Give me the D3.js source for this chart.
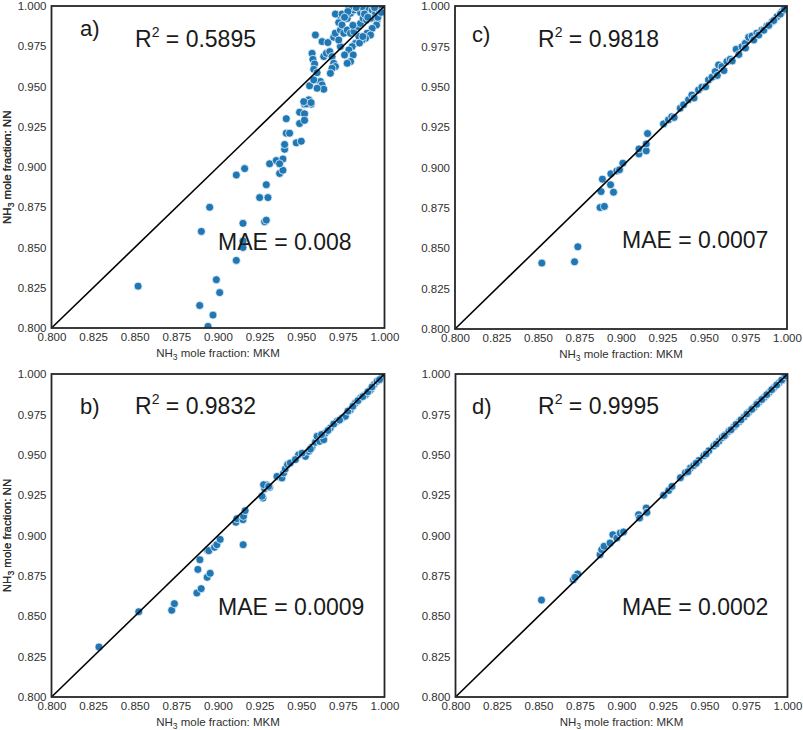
<!DOCTYPE html>
<html><head><meta charset="utf-8">
<script src="https://cdn.jsdelivr.net/npm/d3@7"></script>
<style>body{margin:0;background:#fff}</style>
</head><body>
<svg id="chart" width="803" height="730"></svg>
<script>
const tickValues = [0.800,0.825,0.850,0.875,0.900,0.925,0.950,0.975,1.000];
const panelLabels = ["a)","b)","c)","d)"];
const r2Values = ["0.5895","0.9832","0.9818","0.9995"];
const maeValues = ["0.008","0.0009","0.0007","0.0002"];
const xLabel = "mole fraction: MKM";
const yLabel = "mole fraction: NN";

// Panel a) MKM (x) vs NN (y)
const aX = [0.852,0.889,0.890,0.895,0.894,0.897,0.899,0.901,0.911,0.911,0.916,0.915,0.915,0.915,0.925,0.930,0.929,0.928,0.929,0.931,0.935,0.937,0.939,0.939,0.937,0.940,0.940,0.941,0.943,0.941,0.947,0.950,0.949,0.952,0.949,0.952,0.952,0.956,
0.9585,0.9625,0.966,0.9565,0.957,0.958,0.9575,0.9595,0.9615,0.9625,0.9635,0.9595,0.955,0.9575,0.9545,0.953,0.9515,0.9559,0.9635,0.9651,0.9671,0.9685,0.9695,0.9705,0.9685,0.9675,0.9695,0.9705,0.9735,0.9725,0.9745,0.9725,0.9705,0.9745,0.9776,0.9796,0.9816,0.984,0.9856,0.9876,0.990,0.9926,0.9946,0.9956,0.9952,0.9926,0.9896,0.9916,0.9886,0.9866,0.9846,0.9826,0.9806,0.9786,0.9812,0.9796,0.9776,0.976,0.9735,0.9725,0.9756,0.9776,0.9796,0.9816,0.984,0.9856,0.9872,0.9916,0.9892,0.9966,0.9976,0.9936,0.9866,0.9786,
0.983,0.988,0.990,0.994,0.996,0.998,0.985,0.987,0.981,0.978,0.976];
const aY = [0.826,0.814,0.860,0.875,0.801,0.808,0.830,0.822,0.842,0.895,0.899,0.865,0.854,0.850,0.881,0.881,0.889,0.866,0.867,0.902,0.904,0.896,0.898,0.905,0.902,0.911,0.914,0.921,0.921,0.930,0.915,0.916,0.934,0.933,0.927,0.929,0.939,0.939,
0.982,0.9779,0.9773,0.9706,0.9669,0.964,0.9607,0.9586,0.9531,0.951,0.9483,0.9489,0.9504,0.9541,0.9417,0.9392,0.9406,0.940,0.9686,0.9706,0.9717,0.9686,0.9644,0.9624,0.9613,0.9582,0.9806,0.983,0.9851,0.9897,0.9882,0.9944,0.995,0.995,0.9923,0.9955,0.9975,0.9986,0.9959,0.9975,0.9986,0.9975,0.9955,0.9913,0.9882,0.9861,0.983,0.982,0.9799,0.9789,0.981,0.9768,0.9748,0.9727,0.9696,0.9655,0.9644,0.9696,0.9748,0.9789,0.983,0.9851,0.983,0.9841,0.9872,0.9892,0.9923,0.9923,0.9913,0.9975,0.9992,0.9996,0.9996,0.9986,
0.999,0.995,0.993,0.999,0.993,0.996,0.977,0.981,0.988,0.9965,0.993];

// Panel b)
const bX = [0.8285,0.8524,0.8722,0.8738,0.8873,0.8899,0.8879,0.8891,0.8935,0.8953,0.8937,0.8945,0.8979,0.8993,0.9013,0.9151,0.9107,0.9113,0.9150,0.9153,0.9163,0.9270,0.9280,0.9290,0.9310,0.9264,0.9274,0.9304,
0.9354,0.9384,0.9394,0.9404,0.9418,0.9434,0.9484,0.9525,0.9545,0.9565,0.9585,0.9595,0.9611,0.9635,0.9645,0.9675,0.9715,0.9745,0.9765,0.9795,0.9825,0.9856,0.9886,0.9916,0.9936,0.9956,0.9986,
0.9465,0.9505,0.9555,0.9622,0.9660,0.9695,0.9730,0.9780,0.9810,0.9840,0.9870,0.9900,0.9925,0.9970];
const bY = [0.8310,0.8528,0.8537,0.8578,0.8644,0.8671,0.8790,0.8850,0.8741,0.8766,0.8908,0.8906,0.8927,0.8943,0.8976,0.8943,0.9082,0.9104,0.9098,0.9119,0.9154,0.9232,0.9290,0.9315,0.9298,0.9243,0.9315,0.9304,
0.9366,0.9356,0.9387,0.9412,0.9439,0.9449,0.9500,0.9490,0.9521,0.9548,0.9577,0.9614,0.9583,0.9593,0.9635,0.9666,0.9707,0.9728,0.9738,0.9779,0.9820,0.9851,0.9872,0.9903,0.9934,0.9955,0.9986,
0.9470,0.9510,0.9535,0.9625,0.9650,0.9690,0.9715,0.9770,0.9800,0.9835,0.9860,0.9890,0.9920,0.9965];

// Panel c)
const cX = [0.8523,0.8720,0.8740,0.8874,0.8900,0.8880,0.8888,0.8937,0.8955,0.8939,0.8975,0.8991,0.9011,0.9108,0.9108,0.9152,0.9152,0.9160,0.9256,0.9286,0.9306,
0.9357,0.9377,0.9407,0.9427,0.9467,0.9487,0.9528,0.9548,0.9568,0.9588,0.9608,0.9638,0.9658,0.9694,0.9729,0.9749,0.9769,0.9789,0.9819,0.9849,0.9879,0.9910,0.9940,0.9970,0.9990,
0.9320,0.9440,0.9510,0.9580,0.9620,0.9670,0.9710,0.9750,0.9800,0.9830,0.9860,0.9890,0.9920,0.9960,0.9985];
const cY = [0.8408,0.8416,0.8509,0.8752,0.8759,0.8851,0.8928,0.8893,0.8847,0.8961,0.8979,0.8986,0.9027,0.9084,0.9115,0.9103,0.9146,0.9210,0.9270,0.9295,0.9315,
0.9367,0.9388,0.9419,0.9449,0.9480,0.9497,0.9542,0.9559,0.9594,0.9635,0.9625,0.9656,0.9670,0.9732,0.9748,0.9769,0.9806,0.9814,0.9831,0.9852,0.9876,0.9903,0.9934,0.9965,0.9986,
0.9310,0.9430,0.9500,0.9570,0.9600,0.9660,0.9700,0.9740,0.9790,0.9820,0.9850,0.9880,0.9910,0.9950,0.9980];

// Panel d)
const dX = [0.8518,0.8710,0.8736,0.8720,0.8871,0.8881,0.8895,0.8931,0.8948,0.8972,0.8992,0.9012,0.9103,0.9109,0.9149,0.9153,0.9254,0.9284,0.9304,
0.9355,0.9385,0.9415,0.9435,0.9466,0.9496,0.9526,0.9556,0.9587,0.9607,0.9627,0.9647,0.9677,0.9708,0.9738,0.9768,0.9798,0.9828,0.9859,0.9889,0.9919,0.9949,0.9976,
0.9400,0.9450,0.9510,0.9570,0.9620,0.9660,0.9690,0.9720,0.9755,0.9785,0.9815,0.9845,0.9875,0.9905,0.9935,0.9965,0.9990];
const dY = [0.8600,0.8726,0.8762,0.8741,0.8881,0.8912,0.8933,0.8954,0.9005,0.8984,0.9015,0.9022,0.9129,0.9108,0.9170,0.9143,0.9249,0.9278,0.9304,
0.9358,0.9389,0.9418,0.9433,0.9465,0.9494,0.9524,0.9554,0.9584,0.9607,0.9624,0.9645,0.9673,0.9703,0.9734,0.9764,0.9793,0.9825,0.9855,0.9885,0.9916,0.9946,0.9974,
0.9395,0.9447,0.9505,0.9566,0.9617,0.9655,0.9688,0.9716,0.9752,0.9781,0.9812,0.9842,0.9872,0.9903,0.9932,0.9962,0.9988];

const panels = [
  {x: aX, y: aY, label: panelLabels[0], r2: r2Values[0], mae: maeValues[0], left: 51.5, top: 6, w: 333, h: 322, lx: 80, ly: 36, rx: 135, ry: 47, mx: 218, my: 250},
  {x: bX, y: bY, label: panelLabels[1], r2: r2Values[1], mae: maeValues[1], left: 51.5, top: 374, w: 333, h: 323, lx: 80, ly: 414, rx: 135, ry: 414, mx: 218, my: 615},
  {x: cX, y: cY, label: panelLabels[2], r2: r2Values[2], mae: maeValues[2], left: 455, top: 6, w: 332, h: 323, lx: 472, ly: 42, rx: 538, ry: 47, mx: 622, my: 248},
  {x: dX, y: dY, label: panelLabels[3], r2: r2Values[3], mae: maeValues[3], left: 455.5, top: 374, w: 332, h: 323, lx: 472, ly: 414, rx: 538, ry: 414, mx: 622, my: 615}
];

const svg = d3.select("#chart");
const fmt = d3.format(".3f");
const tickFont = "'Liberation Sans', Arial, sans-serif";
const bigFont = "'Liberation Sans', Arial, sans-serif";

panels.forEach((p, i) => {
  const g = svg.append("g").attr("transform", `translate(${p.left},${p.top})`);
  const x = d3.scaleLinear().domain([0.8, 1.0]).range([0, p.w]);
  const y = d3.scaleLinear().domain([0.8, 1.0]).range([p.h, 0]);

  const clipId = "clip" + i;
  g.append("clipPath").attr("id", clipId).append("rect").attr("width", p.w).attr("height", p.h);

  // axes
  const xa = g.append("g").attr("transform", `translate(0,${p.h})`)
    .call(d3.axisBottom(x).tickValues(tickValues).tickFormat(fmt).tickSize(0).tickPadding(5));
  const ya = g.append("g")
    .call(d3.axisLeft(y).tickValues(tickValues).tickFormat(fmt).tickSize(0).tickPadding(5));
  [xa, ya].forEach(a => {
    a.select(".domain").remove();
    a.selectAll("text").attr("font-family", tickFont).attr("font-size", 11.5).attr("fill", "#303030");
  });

  // axis labels
  const xl = g.append("text").attr("x", p.w / 2).attr("y", p.h + 29)
    .attr("text-anchor", "middle").attr("font-family", tickFont).attr("font-size", 11.5).attr("fill", "#303030");
  xl.append("tspan").text("NH");
  xl.append("tspan").attr("font-size", 8.5).attr("dy", 3).text("3");
  xl.append("tspan").attr("dy", -3).text(" " + xLabel);

  const yl = g.append("text").attr("transform", `translate(${-p.left + 11},${p.h / 2}) rotate(-90)`)
    .attr("text-anchor", "middle").attr("font-family", tickFont).attr("font-size", 11.5).attr("fill", "#303030");
  yl.append("tspan").text("NH");
  yl.append("tspan").attr("font-size", 8.5).attr("dy", 3).text("3");
  yl.append("tspan").attr("dy", -3).text(" " + yLabel);

  // points
  const pts = p.x.map((v, k) => [v, p.y[k]]);
  g.append("g").attr("clip-path", `url(#${clipId})`)
    .selectAll("circle").data(pts).join("circle")
    .attr("cx", d => x(d[0])).attr("cy", d => y(d[1])).attr("r", 4)
    .attr("fill", "#1f77b4").attr("stroke", "#ffffff").attr("stroke-width", 0.7);

  // diagonal
  g.append("line").attr("x1", x(0.8)).attr("y1", y(0.8)).attr("x2", x(1.0)).attr("y2", y(1.0))
    .attr("stroke", "#000").attr("stroke-width", 1.6);

  // frame
  g.append("rect").attr("width", p.w).attr("height", p.h).attr("fill", "none")
    .attr("stroke", "#262626").attr("stroke-width", 1.8);

  // annotations (page coords)
  svg.append("text").attr("x", p.lx).attr("y", p.ly).attr("font-family", bigFont).attr("font-size", 22)
    .attr("fill", "#1a1a1a").text(p.label);
  const rt = svg.append("text").attr("x", p.rx).attr("y", p.ry).attr("font-family", bigFont).attr("font-size", 23)
    .attr("fill", "#1a1a1a");
  rt.append("tspan").text("R");
  rt.append("tspan").attr("font-size", 14).attr("dy", -10).text("2");
  rt.append("tspan").attr("dy", 10).text(" = " + p.r2);
  svg.append("text").attr("x", p.mx).attr("y", p.my).attr("font-family", bigFont).attr("font-size", 23)
    .attr("fill", "#1a1a1a").text("MAE = " + p.mae);
});
</script>
</body></html>
